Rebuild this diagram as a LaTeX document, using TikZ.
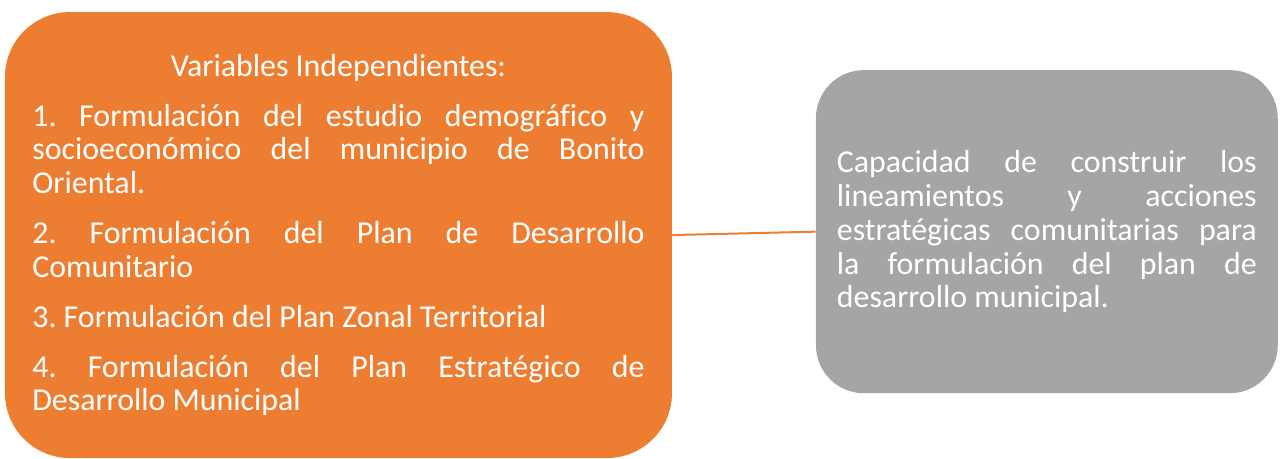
\documentclass[tikz,border=0pt]{standalone}
\usepackage{fontspec}
\setmainfont{Carlito}[Ligatures=CommonOff]
\definecolor{naranja}{HTML}{ED7D31}
\definecolor{gris}{HTML}{A5A5A5}
\begin{document}
\begin{tikzpicture}
        \useasboundingbox (0,0) rectangle (33.87,12.12);
        \tikzset{caja/.style={rectangle,align=justify,text=white,font=\fontsize{24}{25.5}\selectfont,execute at begin node={\frenchspacing\hyphenpenalty=10000\exhyphenpenalty=10000\setlength{\parskip}{12pt}},anchor=center}}
        %% Variables
        \node[caja,fill=naranja,rounded corners=1.72cm,minimum height=11.8cm,minimum width=17.65cm,text width=16.2cm] (V) at (8.956,5.9) {{\centering Variables Independientes:\par}
        1. Formulación del estudio demográfico y socioeconómico del municipio de Bonito Oriental.\par
        2. Formulación del Plan de Desarrollo Comunitario\par
        3. Formulación del Plan Zonal Territorial\par
        4. Formulación del Plan Estratégico de Desarrollo Municipal};
        %% Capacidad
        \node[caja,fill=gris,rounded corners=1.27cm,minimum height=8.55cm,minimum width=12.22cm,text width=11.11cm] (C) at (27.7,5.99) {Capacidad de construir los lineamientos y acciones estratégicas comunitarias para la formulación del plan de desarrollo municipal.};
        \draw[naranja,line width=1.5pt] (V.east) -- (C.west);
    \end{tikzpicture}
\end{document}
